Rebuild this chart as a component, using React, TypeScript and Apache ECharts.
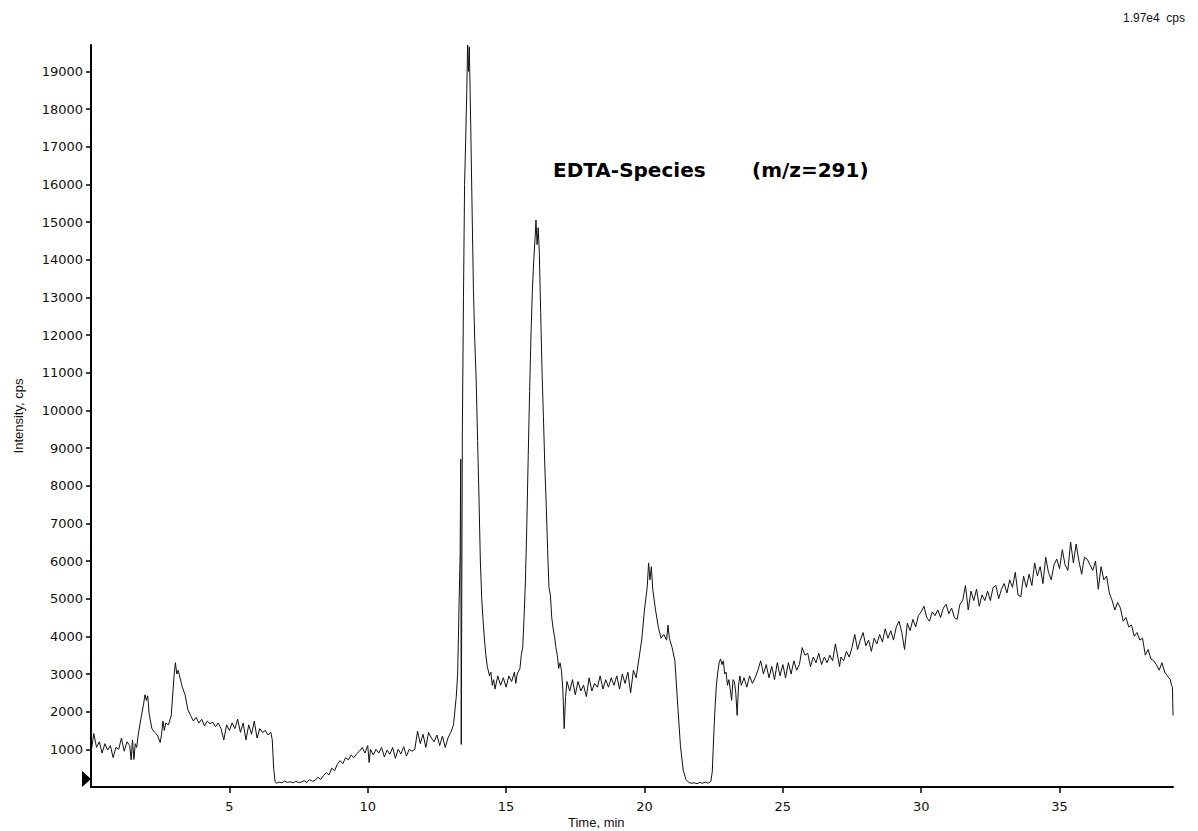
import React, { useEffect, useRef } from "react";
import * as echarts from "echarts";

// Chromatogram trace: [time (min), intensity (cps)]
const trace: number[][] = [
  [0.0, 900], [0.1, 1420], [0.2, 1050], [0.3, 1200], [0.4, 900], [0.5, 1150], [0.6, 980], [0.7, 1100],
  [0.8, 780], [0.9, 1050], [1.0, 1000], [1.1, 1300], [1.2, 950], [1.3, 1200], [1.4, 1100], [1.45, 720],
  [1.5, 1250], [1.55, 730], [1.6, 1150], [1.65, 1050], [1.7, 1350], [1.8, 1800], [1.9, 2200], [1.95, 2450],
  [2.0, 2300], [2.05, 2420], [2.1, 1950], [2.2, 1550], [2.3, 1450], [2.4, 1380], [2.5, 1180], [2.55, 1400],
  [2.6, 1750], [2.65, 1500], [2.7, 1700], [2.8, 1650], [2.9, 1900], [3.0, 2950], [3.05, 3300], [3.1, 3000],
  [3.15, 3100], [3.2, 2950], [3.3, 2650], [3.4, 2450], [3.5, 2050], [3.6, 1900], [3.7, 1750], [3.8, 1850],
  [3.9, 1700], [4.0, 1800], [4.1, 1620], [4.2, 1750], [4.3, 1680], [4.4, 1720], [4.5, 1600], [4.6, 1700],
  [4.7, 1550], [4.8, 1250], [4.9, 1650], [5.0, 1500], [5.1, 1700], [5.2, 1550], [5.3, 1800], [5.4, 1450],
  [5.5, 1700], [5.6, 1250], [5.7, 1650], [5.8, 1400], [5.9, 1750], [6.0, 1300], [6.1, 1550], [6.2, 1450],
  [6.3, 1500], [6.4, 1380], [6.5, 1450], [6.55, 1250], [6.6, 500], [6.65, 150], [6.7, 100], [6.8, 130],
  [6.9, 110], [7.0, 160], [7.1, 120], [7.2, 140], [7.3, 110], [7.4, 150], [7.5, 120], [7.6, 130],
  [7.7, 170], [7.8, 120], [7.9, 200], [8.0, 150], [8.1, 180], [8.2, 260], [8.3, 200], [8.4, 300],
  [8.5, 380], [8.6, 320], [8.7, 500], [8.8, 430], [8.9, 600], [9.0, 700], [9.1, 620], [9.2, 780],
  [9.3, 720], [9.4, 850], [9.5, 780], [9.6, 880], [9.7, 950], [9.8, 1050], [9.9, 900], [10.0, 1100],
  [10.05, 650], [10.1, 1000], [10.2, 850], [10.3, 1000], [10.4, 900], [10.5, 1050], [10.6, 800], [10.7, 980],
  [10.8, 870], [10.9, 1050], [11.0, 760], [11.1, 1000], [11.2, 880], [11.3, 1070], [11.4, 820], [11.5, 1000],
  [11.6, 950], [11.7, 1000], [11.8, 1480], [11.9, 1150], [12.0, 1400], [12.1, 1050], [12.2, 1450], [12.3, 1300],
  [12.4, 1200], [12.5, 1380], [12.6, 1100], [12.7, 1350], [12.8, 1050], [12.9, 1300], [13.0, 1450], [13.1, 1650],
  [13.2, 2400], [13.25, 3000], [13.3, 4800], [13.34, 6200], [13.36, 8700], [13.38, 1130], [13.42, 9500],
  [13.46, 13000], [13.5, 16000], [13.54, 17200], [13.58, 18500], [13.61, 19700], [13.64, 19000], [13.67, 19650],
  [13.7, 18500], [13.73, 17200], [13.77, 15400], [13.82, 13200], [13.87, 11800], [13.92, 10800], [13.97, 9200],
  [14.02, 7700], [14.07, 6000], [14.12, 5000], [14.17, 4400], [14.22, 3900], [14.27, 3500], [14.32, 3200],
  [14.4, 2950], [14.45, 3050], [14.5, 2700], [14.55, 2850], [14.6, 2600], [14.7, 2950], [14.8, 2700], [14.9, 2900],
  [15.0, 2650], [15.1, 2950], [15.2, 2800], [15.3, 3050], [15.35, 2750], [15.4, 3000], [15.5, 3150], [15.55, 3500],
  [15.6, 3700], [15.65, 4500], [15.7, 5500], [15.75, 7000], [15.8, 8800], [15.85, 10500], [15.9, 12000],
  [15.95, 13200], [16.0, 14000], [16.05, 14600], [16.08, 15050], [16.12, 14400], [16.16, 14850], [16.2, 14200],
  [16.25, 12600], [16.3, 11000], [16.35, 9800], [16.4, 8500], [16.45, 7500], [16.5, 6300], [16.55, 5300],
  [16.6, 5100], [16.65, 4500], [16.7, 4200], [16.75, 4000], [16.8, 3700], [16.85, 3500], [16.9, 3150],
  [16.95, 3300], [17.0, 3100], [17.05, 2600], [17.1, 1550], [17.15, 2400], [17.2, 2800], [17.3, 2550],
  [17.4, 2850], [17.5, 2450], [17.6, 2800], [17.7, 2550], [17.8, 2700], [17.9, 2400], [18.0, 2900], [18.1, 2550],
  [18.2, 2750], [18.3, 2650], [18.4, 2950], [18.5, 2600], [18.6, 2850], [18.7, 2650], [18.8, 2900], [18.9, 2700],
  [19.0, 2950], [19.1, 2600], [19.2, 3000], [19.3, 2750], [19.4, 3050], [19.5, 2500], [19.6, 3100], [19.7, 2900],
  [19.8, 3400], [19.9, 3900], [20.0, 4700], [20.1, 5300], [20.15, 5950], [20.2, 5500], [20.25, 5850], [20.3, 5250],
  [20.4, 4700], [20.5, 4250], [20.6, 3950], [20.7, 4050], [20.8, 3900], [20.85, 4300], [20.9, 3950], [21.0, 3700],
  [21.1, 3350], [21.2, 2200], [21.3, 1100], [21.4, 450], [21.5, 200], [21.6, 120], [21.7, 100], [21.8, 110],
  [21.9, 90], [22.0, 120], [22.1, 100], [22.2, 130], [22.3, 100], [22.4, 150], [22.45, 400], [22.5, 1300],
  [22.55, 2100], [22.6, 2700], [22.65, 3050], [22.7, 3300], [22.75, 3400], [22.8, 3250], [22.85, 3350],
  [22.9, 3000], [22.95, 3050], [23.0, 2700], [23.05, 2850], [23.1, 2600], [23.15, 2300], [23.2, 2850],
  [23.25, 2800], [23.3, 2500], [23.35, 1900], [23.4, 2700], [23.45, 2950], [23.5, 2700], [23.6, 2900],
  [23.7, 2650], [23.8, 2950], [23.9, 2750], [24.0, 2900], [24.1, 3100], [24.2, 3350], [24.3, 3000], [24.4, 3250],
  [24.5, 2900], [24.6, 3200], [24.7, 2850], [24.8, 3300], [24.9, 2950], [25.0, 3250], [25.1, 2900], [25.2, 3300],
  [25.3, 3000], [25.4, 3350], [25.5, 3100], [25.6, 3250], [25.7, 3700], [25.8, 3500], [25.9, 3550], [26.0, 3200],
  [26.1, 3450], [26.2, 3300], [26.3, 3550], [26.4, 3250], [26.5, 3450], [26.6, 3300], [26.7, 3500], [26.8, 3350],
  [26.9, 3800], [27.0, 3400], [27.05, 3200], [27.1, 3450], [27.2, 3350], [27.3, 3600], [27.4, 3450], [27.5, 3700],
  [27.6, 4050], [27.7, 3650], [27.8, 3900], [27.9, 4100], [28.0, 3750], [28.1, 3900], [28.2, 3600], [28.3, 3950],
  [28.4, 3800], [28.5, 4050], [28.6, 3850], [28.7, 4200], [28.8, 3950], [28.9, 4150], [29.0, 3900], [29.1, 4250],
  [29.2, 4400], [29.3, 4100], [29.4, 3650], [29.5, 4350], [29.6, 4150], [29.7, 4450], [29.8, 4250], [29.9, 4550],
  [30.0, 4650], [30.1, 4800], [30.2, 4500], [30.3, 4400], [30.4, 4650], [30.5, 4550], [30.6, 4700], [30.7, 4500],
  [30.8, 4750], [30.9, 4850], [31.0, 4600], [31.1, 4750], [31.2, 4500], [31.3, 4450], [31.4, 4850], [31.5, 4950],
  [31.6, 5350], [31.7, 4700], [31.8, 5200], [31.9, 4950], [32.0, 5250], [32.1, 4800], [32.2, 5100], [32.3, 4950],
  [32.4, 5200], [32.5, 4950], [32.6, 5300], [32.7, 5350], [32.8, 5000], [32.9, 5250], [33.0, 5400], [33.1, 5150],
  [33.2, 5500], [33.3, 5300], [33.4, 5700], [33.5, 5100], [33.6, 5050], [33.7, 5600], [33.8, 5300], [33.9, 5650],
  [34.0, 5350], [34.1, 5950], [34.2, 5600], [34.3, 5850], [34.4, 5400], [34.5, 6100], [34.6, 5700], [34.7, 5500],
  [34.8, 5900], [34.9, 6050], [35.0, 5800], [35.1, 6300], [35.2, 5900], [35.3, 5750], [35.4, 6500], [35.5, 5950],
  [35.6, 6450], [35.7, 6000], [35.8, 5650], [35.9, 6100], [36.0, 6050], [36.1, 5900], [36.2, 5750], [36.3, 6000],
  [36.4, 5250], [36.5, 5850], [36.6, 5500], [36.7, 5600], [36.8, 5150], [36.9, 4950], [37.0, 4700], [37.1, 4900],
  [37.2, 4750], [37.3, 4400], [37.4, 4500], [37.5, 4250], [37.6, 4300], [37.7, 4000], [37.8, 4100], [37.9, 3900],
  [38.0, 3950], [38.1, 3500], [38.2, 3650], [38.3, 3400], [38.4, 3350], [38.5, 3250], [38.6, 3100], [38.7, 3300],
  [38.8, 3050], [38.9, 2950], [39.0, 2850], [39.05, 2700], [39.08, 2650], [39.1, 1900],
];

const xTicks: number[] = [5, 10, 15, 20, 25, 30, 35];
const yTicks: number[] = [
  1000, 2000, 3000, 4000, 5000, 6000, 7000, 8000, 9000, 10000,
  11000, 12000, 13000, 14000, 15000, 16000, 17000, 18000, 19000,
];
const xMax = 39.1;
const yMax = 19700;

const titleMain = "EDTA-Species";
const titleMz = "(m/z=291)";
const scaleLabel = "1.97e4  cps";
const xName = "Time, min";
const yName = "Intensity, cps";

const FONT = "'Liberation Sans', Arial, Helvetica, sans-serif";
const WIDE_FONT = "'DejaVu Sans', 'Liberation Sans', sans-serif";

export default function App() {
  const ref = useRef<HTMLDivElement>(null);
  useEffect(() => {
    if (!ref.current) return;
    const chart = echarts.init(ref.current, undefined, { renderer: "svg" });
    chart.setOption({
      animation: false,
      backgroundColor: "#ffffff",
      grid: { left: 91, right: 25, top: 45, bottom: 44, containLabel: false },
      xAxis: {
        type: "value",
        min: 0,
        max: xMax,
        axisLine: { show: true, lineStyle: { color: "#000", width: 2 } },
        axisTick: { show: true, customValues: xTicks, length: 6, lineStyle: { color: "#000", width: 1.5 } },
        axisLabel: {
          customValues: xTicks,
          margin: 13,
          fontFamily: WIDE_FONT,
          fontSize: 13,
          color: "#111",
          formatter: (v: number) => String(v),
        },
        splitLine: { show: false },
      },
      yAxis: {
        type: "value",
        min: 0,
        max: yMax,
        name: yName,
        nameLocation: "middle",
        nameGap: 66,
        nameTextStyle: { fontFamily: FONT, fontSize: 13, color: "#111" },
        axisLine: { show: true, lineStyle: { color: "#000", width: 2 } },
        axisTick: { show: true, customValues: yTicks, length: 5, lineStyle: { color: "#000", width: 1.5 } },
        axisLabel: {
          customValues: yTicks,
          margin: 8,
          fontFamily: WIDE_FONT,
          fontSize: 13,
          color: "#111",
          formatter: (v: number) => String(v),
        },
        splitLine: { show: false },
      },
      series: [
        {
          type: "line",
          data: trace,
          showSymbol: false,
          symbol: "none",
          lineStyle: { color: "#111", width: 1 },
          silent: true,
        },
      ],
      graphic: [
        {
          type: "text",
          left: 553,
          top: 160,
          style: { text: titleMain, font: `bold 20px ${WIDE_FONT}`, fill: "#000" },
        },
        {
          type: "text",
          left: 752,
          top: 160,
          style: { text: titleMz, font: `bold 20px ${WIDE_FONT}`, fill: "#000" },
        },
        {
          type: "text",
          right: 13,
          top: 12,
          style: { text: scaleLabel, font: `12px ${FONT}`, fill: "#111" },
        },
        {
          type: "text",
          left: 568,
          top: 816,
          style: { text: xName, font: `13px ${FONT}`, fill: "#111" },
        },
        {
          type: "polygon",
          shape: { points: [[82, 771], [91, 779], [82, 787]] },
          style: { fill: "#000" },
        },
      ],
    });
    return () => chart.dispose();
  }, []);
  return (
    <div
      ref={ref}
      style={{ position: "fixed", left: 0, top: 0, width: 1198, height: 831, background: "#fff" }}
    />
  );
}
